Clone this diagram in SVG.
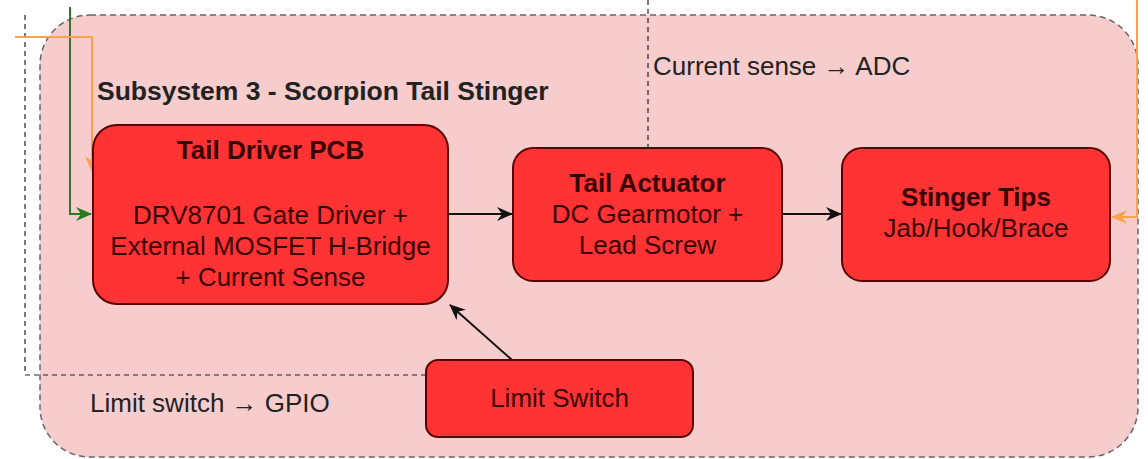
<svg xmlns="http://www.w3.org/2000/svg" width="1148" height="459" viewBox="0 0 1148 459">
<style>
.node{fill:#ff3333;stroke:#5c0000;stroke-width:2}
.t{font-family:"Liberation Sans",Arial,sans-serif;font-size:26px;fill:#3a0000;text-anchor:middle}
.b{font-weight:bold}
.lbl{font-family:"Liberation Sans",Arial,sans-serif;font-size:26px;fill:#222}
.blk{stroke:#111;stroke-width:2;fill:none}
.dash{stroke:#222;stroke-width:1.2;fill:none;stroke-dasharray:5 4}
</style>
<defs>
<marker id="ab" markerUnits="userSpaceOnUse" markerWidth="16" markerHeight="14" refX="15" refY="7" orient="auto"><path d="M0,0 L16,7 L0,14 L5,7 z" fill="#111"/></marker>
<marker id="ag" markerUnits="userSpaceOnUse" markerWidth="16" markerHeight="14" refX="15" refY="7" orient="auto"><path d="M0,0 L16,7 L0,14 L5,7 z" fill="#2a7a1e"/></marker>
<marker id="ao" markerUnits="userSpaceOnUse" markerWidth="16" markerHeight="14" refX="15" refY="7" orient="auto"><path d="M0,0 L16,7 L0,14 L5,7 z" fill="#f7a24c"/></marker>
</defs>
<rect width="1148" height="459" fill="#ffffff"/>
<g id="container">
<rect x="40" y="15" width="1098" height="442" rx="50" ry="50" fill="#f6cdcc" stroke="#666" stroke-width="1.5" stroke-dasharray="6 4"/>
<text class="lbl b" x="97" y="100" style="font-weight:bold;font-size:26.5px">Subsystem 3 - Scorpion Tail Stinger</text>
</g>
<g id="connectors">
<path class="dash" d="M25,15 V375 H426"/>
<path class="dash" d="M648,0 V148"/>
<path d="M70,7 V214 H91" stroke="#2a7a1e" stroke-width="2" fill="none" marker-end="url(#ag)"/>
<path d="M15,37 H92 V171" stroke="#f7a24c" stroke-width="2" fill="none" marker-end="url(#ao)"/>
<path d="M1137,0 V217 H1112" stroke="#f7a24c" stroke-width="2" fill="none" marker-end="url(#ao)"/>
<path class="blk" d="M448,214 H512" marker-end="url(#ab)"/>
<path class="blk" d="M782,214 H841" marker-end="url(#ab)"/>
<path class="blk" d="M512,360 L450,305" marker-end="url(#ab)"/>
<text class="lbl" x="653" y="75">Current sense → ADC</text>
<text class="lbl" x="90" y="412">Limit switch → GPIO</text>
</g>
<g id="tail-driver-pcb">
<rect class="node" x="93" y="125" width="355" height="179" rx="24"/>
<text class="t b" x="270.5" y="159">Tail Driver PCB</text>
<text class="t" x="270.5" y="224">DRV8701 Gate Driver +</text>
<text class="t" x="270.5" y="255">External MOSFET H-Bridge</text>
<text class="t" x="270.5" y="286">+ Current Sense</text>
</g>
<g id="tail-actuator">
<rect class="node" x="513" y="148" width="269" height="133" rx="20"/>
<text class="t b" x="647.5" y="192">Tail Actuator</text>
<text class="t" x="647.5" y="223">DC Gearmotor +</text>
<text class="t" x="647.5" y="254">Lead Screw</text>
</g>
<g id="stinger-tips">
<rect class="node" x="842" y="148" width="268" height="133" rx="20"/>
<text class="t b" x="976" y="206">Stinger Tips</text>
<text class="t" x="976" y="237">Jab/Hook/Brace</text>
</g>
<g id="limit-switch">
<rect class="node" x="426" y="360" width="267" height="77" rx="12"/>
<text class="t" x="559.5" y="407">Limit Switch</text>
</g>
</svg>
